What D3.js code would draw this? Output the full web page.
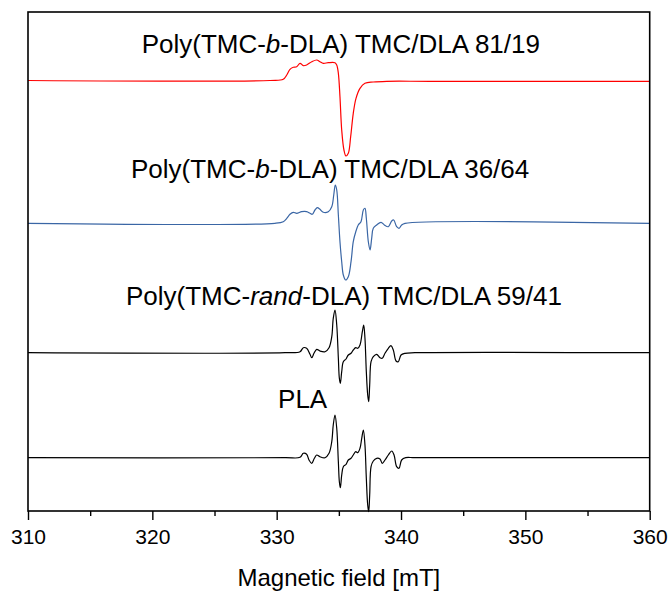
<!DOCTYPE html>
<html>
<head>
<meta charset="utf-8">
<script src="https://cdn.jsdelivr.net/npm/d3@7"></script>
<style>
  body { margin: 0; background: #fff; }
  svg { font-family: "Liberation Sans", Arial, sans-serif; }
</style>
</head>
<body>
<div id="draw"></div>
<script>
// EPR spectra, values: [field (mT), intensity (a.u.)]
var red8119 = [
    [310, 0], [329.46, 0], [330.53, 1.2], [330.81, 5.5], [331.07, 11.2], [331.34, 13.2],
    [331.61, 13.8], [331.88, 17.2], [332.14, 14.8], [332.41, 15.5], [332.82, 18.8],
    [333.22, 20.5], [333.48, 18.8], [333.75, 17.2], [334.15, 17.8], [334.69, 17.8],
    [334.83, 15.5], [334.96, 7.2], [335.09, -16.2], [335.23, -49.5], [335.41, -69.5],
    [335.57, -75.5], [335.76, -72.8], [335.95, -56.2], [336.16, -32.8], [336.38, -17.8],
    [336.70, -7.8], [337.10, -2.8], [337.77, -1.5], [338.85, -0.8], [342.33, -0.8], [360, -0.8]
];
var blue3664 = [
    [310, 0], [329.86, 0], [330.53, 1.6], [330.81, 5.0], [331.07, 9.0], [331.34, 11.0],
    [331.61, 10.0], [332.01, 11.6], [332.41, 11.6], [332.68, 10.0], [332.86, 9.0],
    [333.08, 13.3], [333.27, 15.6], [333.48, 14.0], [333.75, 11.0], [334.15, 11.6],
    [334.43, 16.6], [334.59, 28.3], [334.71, 38.3], [334.83, 33.3], [334.96, 8.3],
    [335.09, -18.4], [335.23, -38.4], [335.36, -51.7], [335.55, -56.7], [335.76, -53.4],
    [335.98, -38.4], [336.16, -18.4], [336.36, -8.4], [336.56, -1.7], [336.78, 1.6],
    [336.97, 13.3], [337.10, 15.0], [337.21, 5.0], [337.37, -18.4], [337.51, -26.7],
    [337.64, -15.0], [337.77, -5.0], [338.04, -1.7], [338.39, 1.0], [338.66, -1.7],
    [338.98, -3.4], [339.25, 2.3], [339.41, 3.3], [339.65, -3.4], [339.84, -5.0],
    [340.05, -1.7], [340.32, 0], [360, 0]
];
var rand5941 = [
    [310, 0], [330.67, 0], [331.88, 1.0], [332.14, 5.0], [332.41, 4.4], [332.68, -1.6],
    [332.82, -5.0], [333.00, -0.6], [333.22, 3.4], [333.48, 1.7], [333.89, 1.0],
    [334.21, 5.0], [334.43, 16.0], [334.55, 34.4], [334.69, 42.7], [334.83, 27.7],
    [334.96, -5.6], [335.04, -25.6], [335.12, -30.6], [335.23, -19.0], [335.36, -9.0],
    [335.58, -6.3], [335.76, -2.3], [335.98, -0.6], [336.16, 2.7], [336.36, 5.0],
    [336.52, 4.4], [336.70, 7.7], [336.89, 21.0], [337.00, 27.7], [337.10, 14.4],
    [337.21, -19.0], [337.32, -42.3], [337.40, -49.0], [337.48, -32.3], [337.59, -9.0],
    [337.77, -4.0], [338.04, -1.6], [338.31, -5.0], [338.49, -5.6], [338.71, -0.6],
    [338.98, 4.4], [339.19, 7.0], [339.38, 2.7], [339.60, -8.3], [339.78, -9.0],
    [340.00, -2.3], [340.32, -0.6], [341.12, 0], [360, 0]
];
var pla = [
    [310, 0], [330.67, 0], [331.88, 0.4], [332.14, 4.4], [332.41, 3.4], [332.60, -2.3],
    [332.82, -5.6], [333.03, -0.6], [333.22, 2.7], [333.48, 1.0], [333.89, 0],
    [334.21, 4.4], [334.43, 16.0], [334.55, 32.7], [334.69, 42.7], [334.83, 29.4],
    [334.96, -4.0], [335.04, -24.0], [335.12, -30.0], [335.23, -17.3], [335.36, -9.0],
    [335.58, -6.6], [335.76, -2.3], [335.98, -0.6], [336.16, 2.7], [336.36, 6.0],
    [336.52, 5.0], [336.70, 9.4], [336.84, 19.4], [336.97, 27.7], [337.10, 12.7],
    [337.21, -20.6], [337.32, -47.3], [337.40, -54.0], [337.48, -37.3], [337.59, -9.0],
    [337.77, -3.3], [338.04, -0.6], [338.31, -1.3], [338.49, -5.6], [338.71, -2.3],
    [338.98, 2.7], [339.25, 6.7], [339.44, 2.7], [339.65, -9.0], [339.84, -10.6],
    [340.05, -2.3], [340.38, 0], [341.12, 0], [360, 0]
];

// vertical offsets of each spectrum (a.u.)
var offsets = [430.5, 287.7, 158.3, 53.3];
var spectra = [red8119, blue3664, rand5941, pla];
var colors = ["#ff0000", "#3a66a5", "#000000", "#000000"];

var majorTicks = [310, 320, 330, 340, 350, 360];
var minorTicks = [315, 325, 335, 345, 355];

var width = 669, height = 593;
var margin = { left: 28, right: 19.3, top: 12, bottom: 82 };

var svg = d3.select('#draw').append('svg')
    .attr('width', width).attr('height', height);

var x = d3.scaleLinear().domain([310, 360]).range([margin.left, width - margin.right]);
var y = d3.scaleLinear().domain([0, 499]).range([height - margin.bottom, margin.top]);

var line = d3.line()
    .x(function(d){ return x(d[0]); })
    .curve(d3.curveCatmullRom.alpha(0.5));

svg.selectAll('path.spec')
    .data(spectra)
    .enter()
    .append('path')
    .attr('class', 'spec')
    .attr('fill', 'none')
    .attr('stroke', function(d, i){ return colors[i]; })
    .attr('stroke-width', 1.2)
    .attr('d', function(d, i){
        return line.y(function(p){ return y(p[1] + offsets[i]); })(d);
    });

// frame
svg.append('rect')
    .attr('x', x(310)).attr('y', y(499))
    .attr('width', x(360) - x(310)).attr('height', y(0) - y(499))
    .attr('fill', 'none').attr('stroke', '#000').attr('stroke-width', 1.6);

// x axis
var xAxis = svg.append('g')
    .attr('transform', 'translate(0,' + y(0) + ')')
    .call(d3.axisBottom(x).tickValues(majorTicks).tickSize(9).tickPadding(9)
        .tickFormat(d3.format('d')));
xAxis.select('.domain').remove();
xAxis.selectAll('line').attr('stroke-width', 1.4);
xAxis.selectAll('text').attr('font-size', 21).attr('font-family', '"Liberation Sans", Arial, sans-serif');

svg.append('g')
    .attr('transform', 'translate(0,' + y(0) + ')')
    .call(d3.axisBottom(x).tickValues(minorTicks).tickSize(5).tickFormat(''))
    .call(function(g){ g.select('.domain').remove(); })
    .selectAll('line').attr('stroke-width', 1.4);

svg.append('text')
    .attr('x', x(335)).attr('y', 586)
    .attr('text-anchor', 'middle')
    .attr('font-size', 24)
    .text('Magnetic field [mT]');

// spectrum labels
var labels = [
    { f: 319.14, v: 457.7, parts: [["Poly(TMC-", false], ["b", true], ["-DLA) TMC/DLA 81/19", false]] },
    { f: 318.28, v: 333, parts: [["Poly(TMC-", false], ["b", true], ["-DLA) TMC/DLA 36/64", false]] },
    { f: 317.88, v: 206, parts: [["Poly(TMC-", false], ["rand", true], ["-DLA) TMC/DLA 59/41", false]] },
    { f: 330.11, v: 103, parts: [["PLA", false]] }
];
labels.forEach(function(l){
    var t = svg.append('text')
        .attr('x', x(l.f)).attr('y', y(l.v))
        .attr('font-size', 26);
    l.parts.forEach(function(p){
        t.append('tspan').attr('font-style', p[1] ? 'italic' : 'normal').text(p[0]);
    });
});
</script>
</body>
</html>
